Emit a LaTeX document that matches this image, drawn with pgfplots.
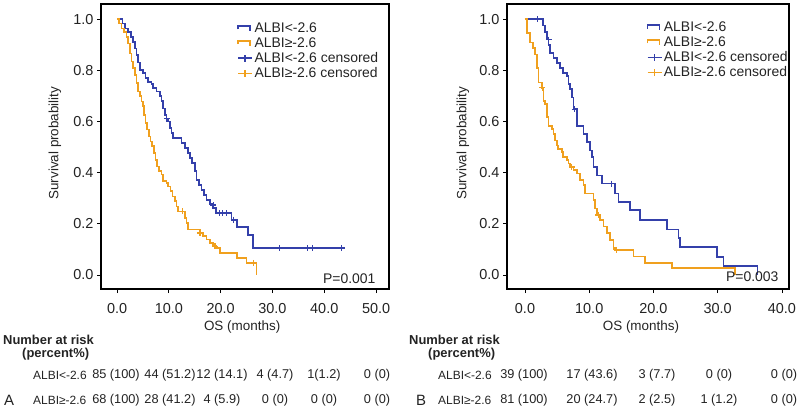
\documentclass[border=0pt]{standalone}
\usepackage{pgfplots}
\pgfplotsset{compat=1.18}
\usepackage{fontspec}
\setmainfont{Liberation Sans}
\definecolor{kmblue}{RGB}{52,64,170}
\definecolor{kmorange}{RGB}{240,160,30}
\definecolor{txt}{RGB}{35,35,35}

\pgfplotsset{
  kmaxis/.style={
    scale only axis, height=285bp,
    axis line style={line width=2bp, black},
    ymin=-0.055, ymax=1.059,
    ytick={0,0.2,0.4,0.6,0.8,1.0},
    tick align=outside, tick pos=left, major tick length=4bp,
    tick style={line width=0.8bp, black},
    /pgf/number format/assume math mode=true,
    xticklabel style={font=\fontsize{14.5}{16}\selectfont, text=txt, yshift=-7bp, /pgf/number format/.cd, fixed, fixed zerofill, precision=1},
    yticklabel style={font=\fontsize{14.5}{16}\selectfont, text=txt, /pgf/number format/.cd, fixed, fixed zerofill, precision=1},
    xlabel={OS (months)}, ylabel={Survival probability},
    label style={font=\fontsize{13.5}{16}\selectfont, text=txt},
    clip=false,
    legend style={draw=none, fill=none, font=\fontsize{14}{16}\selectfont, text=txt,
      row sep=0.6bp, legend cell align=left, inner sep=0pt,
      nodes={inner sep=1.5bp}},
  },
  stepleg/.style={legend image code/.code={\draw[##1, line width=1.6bp] (0bp,-1bp) -- (0bp,2.5bp) -- (12bp,2.5bp) -- (12bp,-2.5bp);}},
  censleg/.style={legend image code/.code={\draw[##1, line width=1.6bp] (0bp,0bp) -- (14bp,0bp); \draw[##1, line width=1.6bp] (7bp,-3.5bp) -- (7bp,3.5bp);}},
}

\begin{document}
\begin{tikzpicture}[x=1bp,y=1bp]
\path[use as bounding box] (0,0) rectangle (800,409);

% ---------------- Panel A ----------------
\begin{axis}[kmaxis, at={(101bp,120bp)}, anchor=south west, width=288bp,
  xmin=-3.1, xmax=52.5, xtick={0,10,20,30,40,50},
  xlabel style={at={(axis description cs:0.49,-0.133)}, anchor=center},
  ylabel style={at={(axis description cs:-0.16,0.512)}, anchor=center},
  legend style={at={(axis description cs:0.473,0.94)}, anchor=north west}]
\addplot[const plot, kmblue, line width=1.7bp, stepleg] coordinates {
(0,1.0) (1.03,0.983) (1.48,0.963) (2.13,0.95) (2.64,0.93) (3.09,0.91) (3.41,0.885)
(3.74,0.86) (4.06,0.83) (4.38,0.80) (5.03,0.79) (5.48,0.77) (5.99,0.755) (6.64,0.745)
(6.96,0.73) (7.60,0.717) (8.25,0.70) (8.57,0.68) (8.89,0.65) (9.21,0.626) (9.54,0.61)
(9.86,0.60) (10.18,0.574) (10.50,0.555) (10.82,0.535) (12.44,0.515) (13.08,0.496)
(13.72,0.476) (14.05,0.457) (14.50,0.437) (15.01,0.405) (15.34,0.372) (15.85,0.352)
(16.30,0.333) (16.75,0.313) (17.27,0.294) (17.91,0.278) (18.56,0.261) (19.07,0.242)
(22.1,0.216) (23.2,0.186) (25.3,0.157) (26.2,0.105) (43.4,0.105)};
\addlegendentry{ALBI<-2.6}
\addplot[const plot, kmorange, line width=1.7bp, stepleg] coordinates {
(0,1.0) (0.39,0.983) (0.84,0.963) (1.29,0.95) (1.80,0.93) (2.13,0.905) (2.45,0.866)
(2.77,0.834) (3.09,0.81) (3.41,0.782) (3.74,0.75) (4.06,0.717) (4.38,0.70) (4.70,0.678)
(5.03,0.66) (5.22,0.626) (5.48,0.594) (5.80,0.568) (6.12,0.541) (6.44,0.522) (6.77,0.503)
(7.09,0.476) (7.41,0.45) (7.73,0.424) (8.05,0.405) (8.57,0.392) (8.89,0.366) (9.54,0.359)
(9.86,0.346) (10.31,0.327) (10.70,0.307) (11.15,0.288) (11.47,0.268) (11.79,0.248)
(13.08,0.222) (13.40,0.203) (13.72,0.177) (15.98,0.164) (16.62,0.151) (17.27,0.138)
(17.91,0.125) (18.56,0.112) (19.20,0.105) (19.85,0.086) (23.20,0.066) (25.0,0.047)
(26.93,0.0)};
\addlegendentry{ALBI≥-2.6}
\addplot[only marks, mark=+, mark size=3bp, kmblue, line width=1.2bp, censleg] coordinates {
(9.6,0.61) (18.6,0.273) (19.7,0.242) (20.3,0.242) (21.2,0.242) (22.5,0.216)
(31.3,0.105) (36.8,0.105) (37.8,0.105) (43.4,0.105)};
\addlegendentry{ALBI<-2.6 censored}
\addplot[only marks, mark=+, mark size=3bp, kmorange, line width=1.2bp, censleg] coordinates {
(12.6,0.248) (16.0,0.164) (18.9,0.112) (26.3,0.047)};
\addlegendentry{ALBI≥-2.6 censored}
\node[anchor=east, font=\fontsize{14}{16}\selectfont, text=txt] at (axis description cs:0.965,0.035) {P=0.001};
\end{axis}

% ---------------- Panel B ----------------
\begin{axis}[kmaxis, at={(507bp,120bp)}, anchor=south west, width=282bp,
  xmin=-2.8, xmax=41.1, xtick={0,10,20,30,40},
  xlabel style={at={(axis description cs:0.475,-0.133)}, anchor=center},
  ylabel style={at={(axis description cs:-0.156,0.512)}, anchor=center},
  legend style={at={(axis description cs:0.495,0.943)}, anchor=north west}]
\addplot[const plot, kmblue, line width=1.7bp, stepleg] coordinates {
(0,1.0) (2.75,0.975) (3.12,0.95) (3.38,0.92) (3.64,0.90) (3.90,0.868) (4.42,0.849)
(4.94,0.829) (5.45,0.81) (5.97,0.79) (6.49,0.777) (6.75,0.745) (7.01,0.726) (7.27,0.693)
(7.53,0.648) (8.05,0.583) (9.09,0.551) (9.61,0.519) (10.13,0.486) (10.39,0.46)
(10.65,0.422) (11.17,0.389) (11.95,0.357) (14.03,0.318) (14.55,0.286) (16.36,0.254)
(17.92,0.215) (22.08,0.178) (23.9,0.143) (24.16,0.108) (29.87,0.071) (30.91,0.035)
(36.2,0.0)};
\addlegendentry{ALBI<-2.6}
\addplot[const plot, kmorange, line width=1.7bp, stepleg] coordinates {
(0,1.0) (0.26,0.946) (0.78,0.908) (1.30,0.887) (1.56,0.862) (1.82,0.81) (2.08,0.752)
(2.60,0.732) (2.86,0.68) (3.12,0.668) (3.38,0.616) (3.64,0.583) (4.16,0.57) (4.42,0.551)
(4.68,0.525) (4.94,0.506) (5.19,0.493) (5.71,0.48) (5.97,0.46) (6.49,0.448) (6.75,0.435)
(7.01,0.422) (7.53,0.409) (8.05,0.396) (8.57,0.37) (9.09,0.351) (9.35,0.318) (10.65,0.292)
(10.91,0.26) (11.17,0.234) (11.69,0.215) (12.21,0.189) (12.73,0.163) (13.25,0.137)
(13.77,0.105) (14.03,0.098) (16.88,0.072) (18.70,0.047) (22.86,0.027) (32.73,0.0)};
\addlegendentry{ALBI≥-2.6}
\addplot[only marks, mark=+, mark size=3bp, kmblue, line width=1.2bp, censleg] coordinates {
(2.0,1.0) (3.7,0.92) (7.74,0.648) (13.5,0.357)};
\addlegendentry{ALBI<-2.6 censored}
\addplot[only marks, mark=+, mark size=3bp, kmorange, line width=1.2bp, censleg] coordinates {
(2.7,0.732) (7.3,0.422) (11.4,0.234) (14.2,0.098)};
\addlegendentry{ALBI≥-2.6 censored}
\node[anchor=east, font=\fontsize{14}{16}\selectfont, text=txt] at (axis description cs:0.975,0.042) {P=0.003};
\end{axis}

% ---------------- Risk tables ----------------
\begin{scope}[every node/.style={font=\fontsize{12.8}{15}\selectfont, text=txt, inner sep=0pt}]
\node[anchor=west, font=\bfseries\fontsize{13}{15}\selectfont] at (3,69) {Number at risk};
\node[anchor=west, font=\bfseries\fontsize{13}{15}\selectfont] at (22,55) {(percent\%)};
\node[anchor=west, font=\fontsize{12}{14}\selectfont] at (33,34) {ALBI<-2.6};
\node[anchor=west, font=\fontsize{12}{14}\selectfont] at (33,9) {ALBI≥-2.6};
\node[anchor=west, font=\fontsize{15}{17}\selectfont] at (4,9) {A};
\node at (116,34) {85 (100)}; \node at (170,34) {44 (51.2)}; \node at (222,34) {12 (14.1)};
\node at (275,34) {4 (4.7)}; \node at (324,34) {1(1.2)}; \node at (377,34) {0 (0)};
\node at (116,9) {68 (100)}; \node at (170,9) {28 (41.2)}; \node at (222,9) {4 (5.9)};
\node at (275,9) {0 (0)}; \node at (324,9) {0 (0)}; \node at (377,9) {0 (0)};

\node[anchor=west, font=\bfseries\fontsize{13}{15}\selectfont] at (409,69) {Number at risk};
\node[anchor=west, font=\bfseries\fontsize{13}{15}\selectfont] at (428,55) {(percent\%)};
\node[anchor=west, font=\fontsize{12}{14}\selectfont] at (438,34) {ALBI<-2.6};
\node[anchor=west, font=\fontsize{12}{14}\selectfont] at (438,9) {ALBI≥-2.6};
\node[anchor=west, font=\fontsize{15}{17}\selectfont] at (416,9) {B};
\node at (524,34) {39 (100)}; \node at (592,34) {17 (43.6)}; \node at (657,34) {3 (7.7)};
\node at (719,34) {0 (0)}; \node at (784,34) {0 (0)};
\node at (524,9) {81 (100)}; \node at (592,9) {20 (24.7)}; \node at (657,9) {2 (2.5)};
\node at (719,9) {1 (1.2)}; \node at (784,9) {0 (0)};
\end{scope}
\end{tikzpicture}
\end{document}
